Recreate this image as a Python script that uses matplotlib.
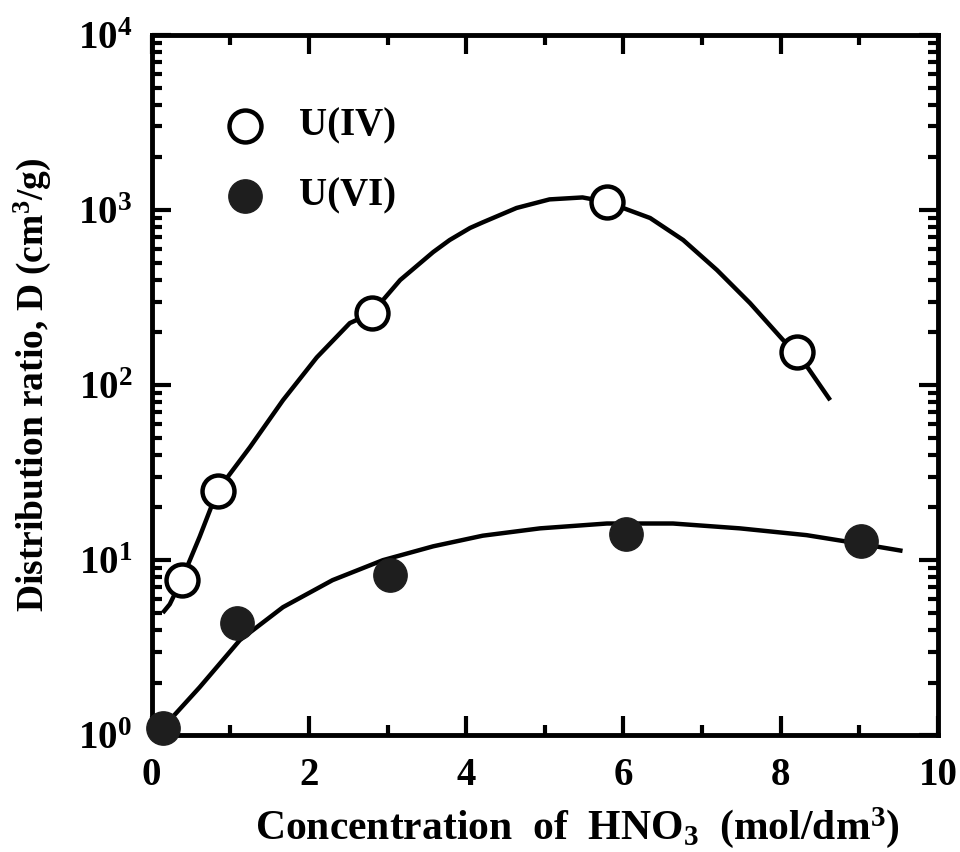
import math
import matplotlib
matplotlib.use("Agg")
import matplotlib.pyplot as plt
from matplotlib.ticker import LogLocator, FixedLocator, FuncFormatter

plt.rcParams['font.family'] = 'Liberation Serif'
plt.rcParams['font.weight'] = 'bold'
plt.rcParams['mathtext.fontset'] = 'custom'
plt.rcParams['mathtext.rm'] = 'Liberation Serif:bold'
plt.rcParams['mathtext.bf'] = 'Liberation Serif:bold'
plt.rcParams['mathtext.it'] = 'Liberation Serif:bold'

# measured points
u4_x = [0.38, 0.84, 2.80, 5.79, 8.21]
u4_y = [7.7, 25, 258, 1111, 154]
u6_x = [0.15, 1.08, 3.03, 6.03, 9.02]
u6_y = [1.1, 4.37, 8.2, 14.2, 12.8]

# fitted curves
u4_fit_x = [0.14, 0.23, 0.38, 0.61, 0.84, 1.25, 1.67, 2.10, 2.52, 2.80, 3.16, 3.58,
            3.79, 4.05, 4.21, 4.64, 5.06, 5.48, 5.79, 6.34, 6.76, 7.19, 7.61, 8.03,
            8.21, 8.63]
u4_fit_y = [5.0, 5.6, 7.7, 13.6, 25.1, 44.2, 82, 144, 226, 258, 398, 575,
            674, 790, 850, 1027, 1150, 1180, 1111, 900, 674, 454, 294, 181,
            154, 82]
u6_fit_x = [0.14, 0.23, 0.61, 1.12, 1.67, 2.30, 2.94, 3.58, 4.21, 4.94, 5.79,
            6.63, 7.48, 8.33, 8.97, 9.55]
u6_fit_y = [1.07, 1.22, 1.88, 3.49, 5.39, 7.69, 10.0, 12.0, 13.8, 15.2, 16.2,
            16.2, 15.2, 13.9, 12.5, 11.3]

fig = plt.figure(figsize=(9.6, 8.52), dpi=100)
ax = fig.add_axes([0.158, 0.137, 0.819, 0.822])

ax.plot(u4_fit_x, u4_fit_y, color='black', lw=3.2, solid_capstyle='butt', zorder=2)
ax.plot(u6_fit_x, u6_fit_y, color='black', lw=3.2, solid_capstyle='butt', zorder=2)
ax.plot(u4_x, u4_y, 'o', ms=23, mfc='white', mec='black', mew=3.2, zorder=3, clip_on=False)
ax.plot(u6_x, u6_y, 'o', ms=24, mfc='#1e1e1e', mec='#1e1e1e', mew=1, zorder=3, clip_on=False)

# legend drawn as points in axes coordinates
ax.plot([0.119], [0.87], 'o', ms=23, mfc='white', mec='black', mew=3.2, transform=ax.transAxes)
ax.plot([0.119], [0.77], 'o', ms=24, mfc='#1e1e1e', mec='#1e1e1e', transform=ax.transAxes)
ax.text(0.188, 0.87, 'U(IV)', fontsize=28, fontweight='bold', va='center', transform=ax.transAxes)
ax.text(0.188, 0.77, 'U(VI)', fontsize=28, fontweight='bold', va='center', transform=ax.transAxes)

ax.set_yscale('log')
ax.set_xlim(0, 10)
ax.set_ylim(1, 1e4)

ax.xaxis.set_major_locator(FixedLocator([0, 2, 4, 6, 8, 10]))
ax.xaxis.set_minor_locator(FixedLocator([1, 3, 5, 7, 9]))
ax.yaxis.set_major_locator(LogLocator(base=10, numticks=10))
ax.yaxis.set_minor_locator(LogLocator(base=10, subs=range(2, 10), numticks=20))
ax.yaxis.set_major_formatter(FuncFormatter(lambda v, p: r'$10^{%d}$' % round(math.log10(v))))

ax.tick_params(which='both', direction='in', top=True, right=True, width=3)
ax.tick_params(which='major', length=14, labelsize=28, pad=10)
ax.tick_params(which='minor', length=7)
ax.tick_params(axis='x', which='major', pad=16)
ax.tick_params(axis='y', which='major', pad=14)
for s in ax.spines.values():
    s.set_linewidth(3.5)

ax.set_xlabel(r'Concentration  of  HNO$_3$  (mol/dm$^3$)', fontsize=30, fontweight='bold')
ax.xaxis.set_label_coords(0.541, -0.1)
ax.set_ylabel(r'Distribution ratio, D (cm$^3$/g)', fontsize=27, fontweight='bold', labelpad=18)

fig.savefig('out.png', dpi=100)
